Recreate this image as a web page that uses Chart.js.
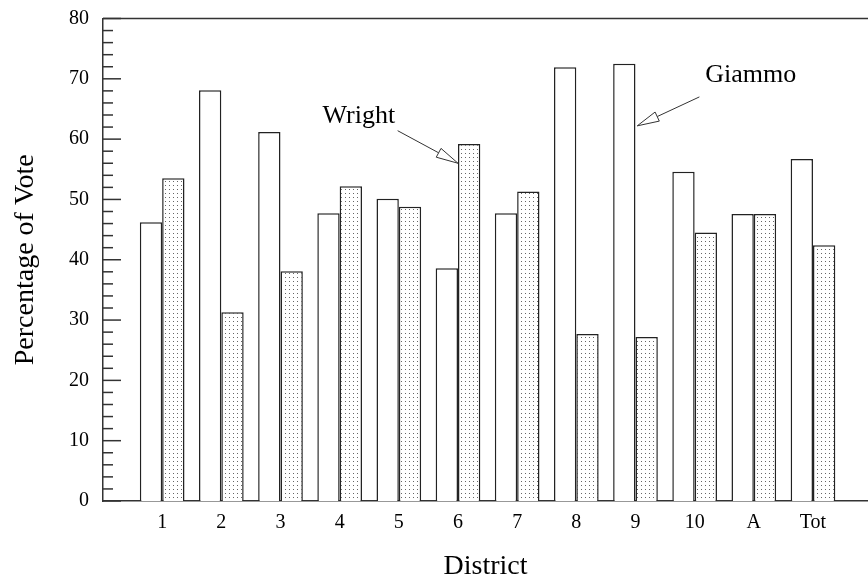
<!DOCTYPE html>
<html lang="en">
    <head>
        <meta charset="utf-8" />
        <title>Percentage of Vote by District</title>
        <style>
            body {
                margin: 0;
                background-color: #ffffff;
            }
            #wrap {
                width: 868px;
                height: 578px;
            }
        </style>
    </head>
    <body>
        <div id="wrap">
            <canvas id="voteChart" width="868" height="578"></canvas>
        </div>

        <script src="https://cdn.jsdelivr.net/npm/chart.js"></script>
        <script>
            // values
            const districts = ["1", "2", "3", "4", "5", "6", "7", "8", "9", "10", "A", "Tot"];
            const giammo = [46.2, 68.1, 61.2, 47.7, 50.1, 38.6, 47.7, 71.9, 72.5, 54.6, 47.6, 56.7];
            const wright = [53.5, 31.3, 38.1, 52.2, 48.8, 59.2, 51.3, 27.7, 27.2, 44.5, 47.6, 42.4];
            const yTicks = [0, 10, 20, 30, 40, 50, 60, 70, 80];

            // annotation anchors in data units: [textX, textY, tailX, tailY, tipX, tipY]
            const notes = [
                { label: "Wright", at: [3.71, 62.7, 4.98, 61.4, 6.0, 56.0] },
                { label: "Giammo", at: [10.18, 69.5, 10.08, 67.0, 9.03, 62.2] },
            ];

            const serif = "'Liberation Serif', 'Times New Roman', serif";
            const ink = "#333333";

            // dotted fill used for the Wright bars
            function dotPattern() {
                const c = document.createElement("canvas");
                c.width = 4;
                c.height = 4;
                const g = c.getContext("2d");
                g.fillStyle = "#ffffff";
                g.fillRect(0, 0, 4, 4);
                g.fillStyle = "#666666";
                g.fillRect(1, 1, 1, 1);
                return g.createPattern(c, "repeat");
            }

            const framePlugin = {
                id: "frame",
                afterDraw(chart) {
                    const { ctx, chartArea } = chart;
                    const y = chart.scales.y;
                    ctx.save();
                    ctx.strokeStyle = ink;
                    ctx.lineWidth = 1.5;
                    // top line
                    ctx.beginPath();
                    ctx.moveTo(chartArea.left, chartArea.top);
                    ctx.lineTo(chartArea.right, chartArea.top);
                    ctx.stroke();
                    // inward ticks on the value axis
                    for (let v = 0; v <= 80; v += 2) {
                        const py = y.getPixelForValue(v);
                        const len = v % 10 === 0 ? 18 : 10;
                        ctx.beginPath();
                        ctx.moveTo(chartArea.left, py);
                        ctx.lineTo(chartArea.left + len, py);
                        ctx.stroke();
                    }
                    ctx.restore();
                },
            };

            const notePlugin = {
                id: "notes",
                afterDraw(chart) {
                    const { ctx } = chart;
                    const xs = chart.scales.x;
                    const ys = chart.scales.y;
                    ctx.save();
                    notes.forEach(({ label, at }) => {
                        const [tx, ty, ax, ay, bx, by] = at;
                        ctx.fillStyle = "#000000";
                        ctx.font = "26px " + serif;
                        ctx.textBaseline = "alphabetic";
                        ctx.textAlign = "left";
                        ctx.fillText(label, xs.getPixelForValue(tx), ys.getPixelForValue(ty));

                        const x0 = xs.getPixelForValue(ax);
                        const y0 = ys.getPixelForValue(ay);
                        const x1 = xs.getPixelForValue(bx);
                        const y1 = ys.getPixelForValue(by);
                        const ang = Math.atan2(y1 - y0, x1 - x0);
                        const headLen = 22;
                        const half = 5;
                        const hx = x1 - headLen * Math.cos(ang);
                        const hy = y1 - headLen * Math.sin(ang);
                        ctx.strokeStyle = ink;
                        ctx.lineWidth = 1;
                        ctx.beginPath();
                        ctx.moveTo(x0, y0);
                        ctx.lineTo(hx, hy);
                        ctx.stroke();
                        ctx.beginPath();
                        ctx.moveTo(x1, y1);
                        ctx.lineTo(hx + half * Math.sin(ang), hy - half * Math.cos(ang));
                        ctx.lineTo(hx - half * Math.sin(ang), hy + half * Math.cos(ang));
                        ctx.closePath();
                        ctx.fillStyle = "#ffffff";
                        ctx.fill();
                        ctx.stroke();
                    });
                    ctx.restore();
                },
            };

            new Chart(document.getElementById("voteChart"), {
                type: "bar",
                data: {
                    datasets: [
                        {
                            label: "Giammo",
                            data: giammo.map((v, i) => ({ x: i + 1, y: v })),
                            backgroundColor: "#ffffff",
                            borderColor: "#222222",
                            borderWidth: 1.5,
                        },
                        {
                            label: "Wright",
                            data: wright.map((v, i) => ({ x: i + 1, y: v })),
                            backgroundColor: dotPattern(),
                            borderColor: "#222222",
                            borderWidth: 1.5,
                        },
                    ],
                },
                options: {
                    responsive: false,
                    animation: false,
                    categoryPercentage: 0.755,
                    barPercentage: 1,
                    layout: {
                        padding: { left: 11, top: 4, right: 0, bottom: 0 },
                    },
                    plugins: {
                        legend: { display: false },
                        tooltip: { enabled: false },
                    },
                    scales: {
                        x: {
                            type: "linear",
                            offset: false,
                            min: 0,
                            max: 12.93,
                            grid: { display: false, drawTicks: false },
                            border: { display: true, color: ink, width: 1.5 },
                            afterBuildTicks(scale) {
                                scale.ticks = districts.map((_, i) => ({ value: i + 1 }));
                            },
                            ticks: {
                                autoSkip: false,
                                maxRotation: 0,
                                padding: 10,
                                color: "#000000",
                                font: { family: serif, size: 20 },
                                callback: (value) => districts[value - 1],
                            },
                            title: {
                                display: true,
                                text: "District",
                                color: "#000000",
                                font: { family: serif, size: 28, lineHeight: 1 },
                                padding: { top: 8, bottom: -3 },
                            },
                        },
                        y: {
                            min: 0,
                            max: 80,
                            grid: { display: false, drawTicks: false },
                            border: { display: true, color: ink, width: 1.5 },
                            afterBuildTicks(scale) {
                                scale.ticks = yTicks.map((v) => ({ value: v }));
                            },
                            ticks: {
                                padding: 14,
                                color: "#000000",
                                font: { family: serif, size: 20, lineHeight: 0.45 },
                            },
                            title: {
                                display: true,
                                text: "Percentage of Vote",
                                color: "#000000",
                                font: { family: serif, size: 28, lineHeight: 1 },
                                padding: { top: 1, bottom: 15 },
                            },
                        },
                    },
                },
                plugins: [framePlugin, notePlugin],
            });
        </script>
    </body>
</html>
